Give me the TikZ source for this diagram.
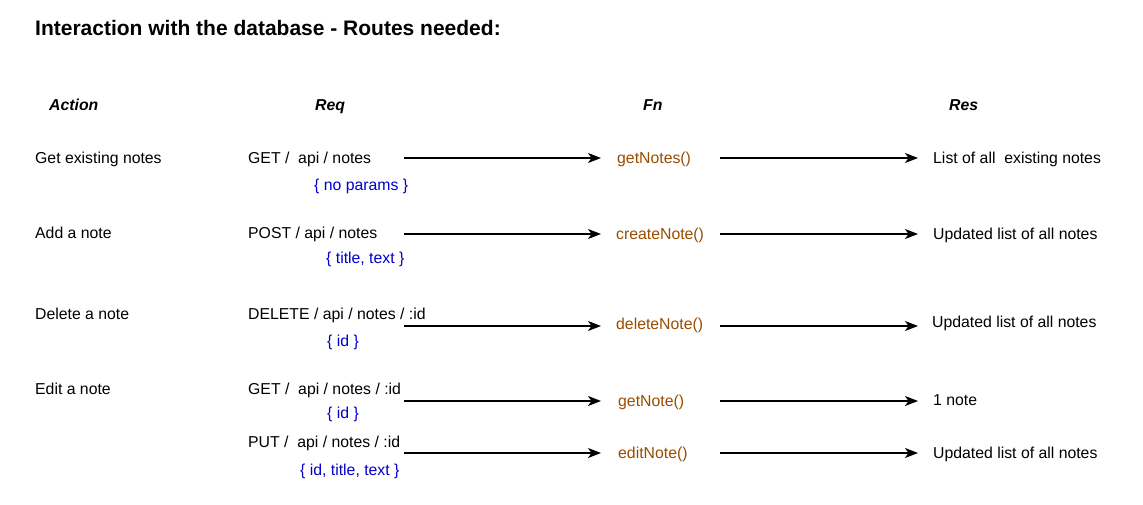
\documentclass[tikz,border=0pt]{standalone}
\usepackage{fontspec}
\setmainfont{Liberation Sans}
\usetikzlibrary{arrows.meta}
\definecolor{fnbrown}{HTML}{994C00}
\definecolor{parblue}{HTML}{0000CC}
\tikzset{
  txt/.style={anchor=base west, inner sep=0pt, font=\fontsize{15.8}{18}\selectfont},
  hdr/.style={anchor=base west, inner sep=0pt, font=\fontsize{15.8}{18}\selectfont\bfseries\itshape},
  ttl/.style={anchor=base west, inner sep=0pt, font=\fontsize{21}{24}\selectfont\bfseries},
  fn/.style={txt, text=fnbrown},
  par/.style={txt, text=parblue},
  arr/.style={-{Stealth[length=13pt,width=10pt,inset=3.5pt]}, line width=1.3pt, black},
}
\begin{document}
\begin{tikzpicture}[x=1pt,y=-1pt]
\useasboundingbox (0,0) rectangle (1143,505);
\node[ttl] (title) at (35,35.5) {Interaction with the database - Routes needed:};
\node[hdr] (hA) at (49,110.5) {Action};
\node[hdr] (hR) at (315,110.5) {Req};
\node[hdr] (hF) at (643,110.5) {Fn};
\node[hdr] (hS) at (949,110.5) {Res};
% row 1
\node[txt] (a1) at (35,163.5) {Get existing notes};
\node[txt] (r1) at (248,163.5) {GET /\ \ api / notes};
\node[par] (p1) at (314,190.5) {\{ no params \}};
\coordinate (s1) at (404,158);
\coordinate (e1) at (601,158);
\node[fn] (f1) at (617,163.5) {getNotes()};
\coordinate (s1b) at (720,158);
\coordinate (e1b) at (918,158);
\node[txt] (o1) at (933,163.5) {List of all\ \ existing notes};
\draw[arr] (s1) -- (e1);
\draw[arr] (s1b) -- (e1b);
% row 2
\node[txt] (a2) at (35,238.5) {Add a note};
\node[txt] (r2) at (248,238.5) {POST / api / notes};
\node[par] (p2) at (326,263.5) {\{ title, text \}};
\coordinate (s2) at (404,234);
\coordinate (e2) at (601,234);
\node[fn] (f2) at (616,239.5) {createNote()};
\coordinate (s2b) at (720,234);
\coordinate (e2b) at (918,234);
\node[txt] (o2) at (933,239.5) {Updated list of all notes};
\draw[arr] (s2) -- (e2);
\draw[arr] (s2b) -- (e2b);
% row 3
\node[txt] (a3) at (35,319.5) {Delete a note};
\node[txt] (r3) at (248,319.5) {DELETE / api / notes / :id};
\node[par] (p3) at (327,346.5) {\{ id \}};
\coordinate (s3) at (404,326);
\coordinate (e3) at (601,326);
\node[fn] (f3) at (616,329.5) {deleteNote()};
\coordinate (s3b) at (720,326);
\coordinate (e3b) at (918,326);
\node[txt] (o3) at (932,327.5) {Updated list of all notes};
\draw[arr] (s3) -- (e3);
\draw[arr] (s3b) -- (e3b);
% row 4
\node[txt] (a4) at (35,394.5) {Edit a note};
\node[txt] (r4) at (248,394.5) {GET /\ \ api / notes / :id};
\node[par] (p4) at (327,418.5) {\{ id \}};
\coordinate (s4) at (404,401);
\coordinate (e4) at (601,401);
\node[fn] (f4) at (618,406.5) {getNote()};
\coordinate (s4b) at (720,401);
\coordinate (e4b) at (918,401);
\node[txt] (o4) at (933,405.5) {1 note};
\draw[arr] (s4) -- (e4);
\draw[arr] (s4b) -- (e4b);
% row 5
\node[txt] (r5) at (248,447.5) {PUT /\ \ api / notes / :id};
\node[par] (p5) at (300,475.5) {\{ id, title, text \}};
\coordinate (s5) at (404,453);
\coordinate (e5) at (601,453);
\node[fn] (f5) at (618,458.5) {editNote()};
\coordinate (s5b) at (720,453);
\coordinate (e5b) at (918,453);
\node[txt] (o5) at (933,458.5) {Updated list of all notes};
\draw[arr] (s5) -- (e5);
\draw[arr] (s5b) -- (e5b);
\end{tikzpicture}
\end{document}
